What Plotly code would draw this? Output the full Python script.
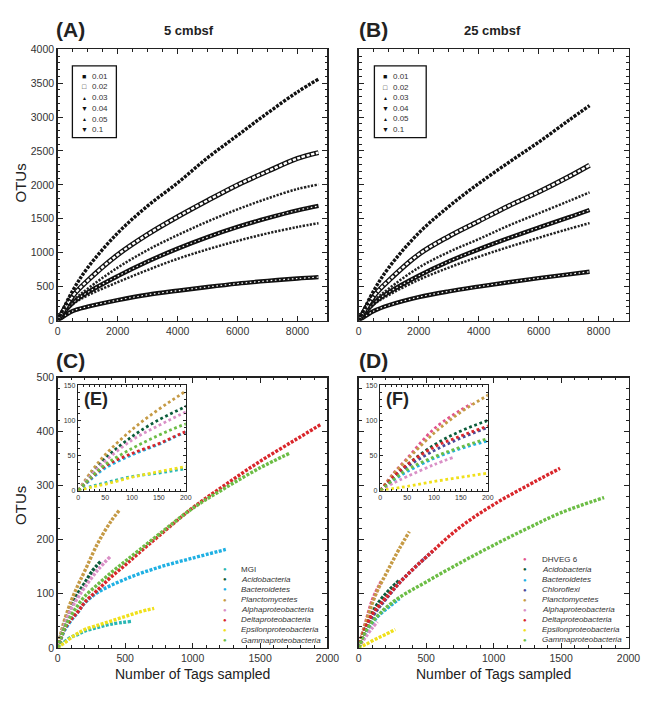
import plotly.graph_objects as go

# ---------------- DATA ----------------
# Panels A / B : OTU rarefaction at different cutoffs
cutoffs = ["0.01", "0.02", "0.03", "0.04", "0.05", "0.1"]

A_tags = [0, 500, 1000, 2000, 3000, 4000, 5000, 6000, 7000, 8000, 8700]
A_otus = {
    "0.01": [0, 440, 780, 1290, 1690, 2030, 2400, 2730, 3060, 3370, 3560],
    "0.02": [0, 360, 590, 970, 1270, 1530, 1770, 2000, 2200, 2390, 2476],
    "0.03": [0, 285, 470, 780, 1040, 1260, 1460, 1640, 1800, 1940, 2005],
    "0.04": [0, 260, 415, 655, 870, 1060, 1230, 1380, 1510, 1625, 1690],
    "0.05": [0, 240, 370, 565, 745, 910, 1050, 1175, 1285, 1380, 1435],
    "0.1":  [0, 140, 205, 300, 380, 440, 495, 545, 585, 620, 640],
}

B_tags = [0, 500, 1000, 2000, 3000, 4000, 5000, 6000, 7000, 7700]
B_otus = {
    "0.01": [0, 440, 780, 1290, 1680, 2020, 2330, 2630, 2950, 3170],
    "0.02": [0, 360, 590, 975, 1240, 1465, 1690, 1895, 2120, 2290],
    "0.03": [0, 285, 470, 780, 1010, 1200, 1400, 1580, 1760, 1890],
    "0.04": [0, 255, 415, 660, 870, 1050, 1215, 1370, 1520, 1630],
    "0.05": [0, 235, 375, 600, 780, 940, 1085, 1220, 1350, 1436],
    "0.1":  [0, 140, 225, 345, 430, 500, 565, 625, 680, 720],
}

# Panels C / E : 5 cmbsf taxa
C_taxa = ["MGI", "Acidobacteria", "Bacteroidetes", "Planctomycetes",
          "Alphaproteobacteria", "Deltaproteobacteria",
          "Epsilonproteobacteria", "Gammaproteobacteria"]
C_x = {
    "MGI": [0, 25, 50, 100, 150, 200, 300, 400, 547],
    "Acidobacteria": [0, 25, 50, 100, 150, 200, 250, 321],
    "Bacteroidetes": [0, 25, 50, 100, 150, 200, 300, 500, 750, 1000, 1246],
    "Planctomycetes": [0, 25, 50, 100, 150, 200, 300, 400, 462],
    "Alphaproteobacteria": [0, 25, 50, 100, 150, 200, 300, 394],
    "Deltaproteobacteria": [0, 25, 50, 100, 150, 200, 300, 400, 500, 600, 750,
                            1000, 1250, 1500, 1750, 1956],
    "Epsilonproteobacteria": [0, 25, 50, 100, 150, 200, 300, 400, 500, 600, 715],
    "Gammaproteobacteria": [0, 25, 50, 100, 150, 200, 300, 400, 500, 600, 750,
                            1000, 1250, 1500, 1720],
}
C_y = {
    "MGI": [0, 6, 11, 20, 25, 31, 38, 44, 49],
    "Acidobacteria": [0, 25, 46, 77, 101, 120, 140, 161],
    "Bacteroidetes": [0, 17, 32, 51, 66, 83, 103, 127, 149, 166, 182],
    "Planctomycetes": [0, 28, 51, 87, 116, 142, 195, 236, 256],
    "Alphaproteobacteria": [0, 23, 42, 72, 93, 112, 145, 170],
    "Deltaproteobacteria": [0, 19, 35, 53, 67, 84, 108, 132, 153, 175, 207,
                            259, 303, 345, 383, 414],
    "Epsilonproteobacteria": [0, 5, 9, 19, 27, 34, 42, 50, 58, 66, 73],
    "Gammaproteobacteria": [0, 20, 37, 60, 79, 95, 118, 140, 160, 180, 210,
                            258, 297, 333, 360],
}

# Panels D / F : 25 cmbsf taxa
D_taxa = ["DHVEG 6", "Acidobacteria", "Bacteroidetes", "Chloroflexi",
          "Planctomycetes", "Alphaproteobacteria", "Deltaproteobacteria",
          "Epsilonproteobacteria", "Gammaproteobacteria"]
D_x = {
    "DHVEG 6": [0, 25, 50, 100, 150, 170],
    "Acidobacteria": [0, 25, 50, 100, 150, 200, 250, 302],
    "Bacteroidetes": [0, 25, 50, 100, 150, 200, 250, 302],
    "Chloroflexi": [0, 25, 50, 100, 150, 200, 300, 400, 500, 549],
    "Planctomycetes": [0, 25, 50, 100, 150, 200, 250, 300, 375],
    "Alphaproteobacteria": [0, 25, 50, 100, 138],
    "Deltaproteobacteria": [0, 25, 50, 100, 150, 200, 300, 400, 500, 750,
                            1000, 1250, 1492],
    "Epsilonproteobacteria": [0, 25, 50, 100, 150, 200, 271],
    "Gammaproteobacteria": [0, 25, 50, 100, 150, 200, 300, 500, 750, 1000,
                            1250, 1500, 1819],
}
D_y = {
    "DHVEG 6": [0, 25, 46, 88, 115, 124],
    "Acidobacteria": [0, 20, 37, 65, 85, 100, 113, 125],
    "Bacteroidetes": [0, 15, 27, 46, 60, 71, 81, 91],
    "Chloroflexi": [0, 19, 34, 57, 75, 90, 120, 145, 168, 179],
    "Planctomycetes": [0, 24, 44, 82, 112, 136, 160, 183, 215],
    "Alphaproteobacteria": [0, 11, 20, 37, 48],
    "Deltaproteobacteria": [0, 20, 37, 62, 78, 92, 120, 145, 168, 223, 265,
                            300, 332],
    "Epsilonproteobacteria": [0, 3, 6, 13, 19, 25, 34],
    "Gammaproteobacteria": [0, 16, 30, 48, 62, 74, 93, 122, 157, 190, 221,
                            250, 278],
}

taxon_colors = {
    "MGI": "#2ab7b4",
    "DHVEG 6": "#e2558c",
    "Acidobacteria": "#0b5d3b",
    "Bacteroidetes": "#1fb0e3",
    "Chloroflexi": "#4a4b99",
    "Planctomycetes": "#c59a45",
    "Alphaproteobacteria": "#d98fc6",
    "Deltaproteobacteria": "#d9262b",
    "Epsilonproteobacteria": "#f0e01a",
    "Gammaproteobacteria": "#6cbd45",
}
italic_names = set(taxon_colors) - {"MGI", "DHVEG 6"}

cutoff_symbols = {"0.01": ("■", 7), "0.02": ("□", 7), "0.03": ("▲", 5),
                  "0.04": ("▼", 7), "0.05": ("▲", 5), "0.1": ("▼", 7)}

# ---------------- STYLE ----------------
FONT = "Liberation Sans, Arial, sans-serif"
W, H = 663, 703
AX = "#222222"


def px(x):
    return x / W


def py(y):
    return 1 - y / H


cutoff_styles = {
    "0.01": [dict(width=3.4, dash="3px,1.3px", color="#111")],
    "0.02": [dict(width=5, color="#111"),
             dict(width=2.4, dash="3.4px,1.5px", color="white")],
    "0.03": [dict(width=2.5, dash="2.2px,1.4px", color="#222")],
    "0.04": [dict(width=4.4, color="#111"),
             dict(width=1.2, dash="1.6px,2.6px", color="white")],
    "0.05": [dict(width=2.5, dash="2.2px,1.4px", color="#222")],
    "0.1": [dict(width=4.4, color="#111"),
            dict(width=1.2, dash="1.6px,2.6px", color="white")],
}

fig = go.Figure()


def add_line(x, y, ax, line):
    ln = dict(line)
    ln["shape"] = "spline"
    fig.add_trace(go.Scatter(x=x, y=y, mode="lines", line=ln,
                             xaxis="x" + ax, yaxis="y" + ax,
                             hoverinfo="skip", showlegend=False))


# A and B
for tags, otus, ax in [(A_tags, A_otus, ""), (B_tags, B_otus, "2")]:
    for c in cutoffs[::-1]:
        for st in cutoff_styles[c]:
            add_line(tags, otus[c], ax, st)

# C/E and D/F
for taxa, xs, ys, ax_main, ax_in in [(C_taxa, C_x, C_y, "3", "5"),
                                       (D_taxa, D_x, D_y, "4", "6")]:
    for t in taxa:
        add_line(xs[t], ys[t], ax_main,
                 dict(width=3.4, dash="3px,1.5px", color=taxon_colors[t]))
    for t in taxa:
        add_line(xs[t], ys[t], ax_in,
                 dict(width=2.8, dash="2.8px,2.7px", color=taxon_colors[t]))


def axis(dom, rng, dtick, mdtick, anchor, labels=True, fsize=10.5, tlen=5):
    return dict(domain=dom, range=rng, dtick=dtick, tick0=0, ticks="inside",
                ticklen=tlen, tickwidth=1, tickcolor=AX, mirror="ticks",
                showline=True, linecolor=AX, linewidth=1.5, showgrid=False,
                zeroline=False, anchor=anchor, showticklabels=labels,
                tickfont=dict(size=fsize, color="#333", family=FONT),
                minor=dict(dtick=mdtick, ticks="inside", ticklen=tlen * 0.55,
                           tickcolor=AX, tickwidth=1, showgrid=False),
                fixedrange=True)


xA = [px(56), px(332)]
xB = [px(364), px(640)]
yTop = [py(320), py(44)]
yBot = [py(653), py(378)]
xE = [px(77), px(187)]
xF = [px(386), px(496)]
yIn = [py(493), py(386)]

fig.update_layout(
    width=W, height=H, margin=dict(l=0, r=0, t=0, b=0),
    paper_bgcolor="white", plot_bgcolor="white", showlegend=False,
    font=dict(family=FONT, color="#222"),
    xaxis=axis(xA, [0, 9000], 2000, 500, "y"),
    yaxis=axis(yTop, [0, 4000], 500, 100, "x"),
    xaxis2=axis(xB, [0, 9000], 2000, 500, "y2"),
    yaxis2=axis(yTop, [0, 4000], 500, 100, "x2", labels=False),
    xaxis3=axis(xA, [0, 2000], 500, 100, "y3"),
    yaxis3=axis(yBot, [0, 500], 100, 20, "x3"),
    xaxis4=axis(xB, [0, 2000], 500, 100, "y4"),
    yaxis4=axis(yBot, [0, 500], 100, 20, "x4", labels=False),
    xaxis5=axis(xE, [0, 200], 50, 10, "y5", fsize=7, tlen=3),
    yaxis5=axis(yIn, [0, 150], 50, 10, "x5", fsize=7, tlen=3),
    xaxis6=axis(xF, [0, 200], 50, 10, "y6", fsize=7, tlen=3),
    yaxis6=axis(yIn, [0, 150], 50, 10, "x6", fsize=7, tlen=3),
)

ann = []
shapes = []


def text(x, y, s, size, bold=False, xanchor="center", angle=0, color="#222"):
    ann.append(dict(x=px(x), y=py(y), xref="paper", yref="paper", text=s,
                    showarrow=False, xanchor=xanchor, yanchor="middle",
                    textangle=angle,
                    font=dict(size=size, family=FONT, color=color,
                              weight="bold" if bold else "normal")))


# panel labels and titles
text(52, 24, "(A)", 21, True, "left")
text(362, 24, "(B)", 21, True, "left")
text(52, 361, "(C)", 21, True, "left")
text(362, 361, "(D)", 21, True, "left")
text(81, 400, "(E)", 18, True, "left")
text(390, 400, "(F)", 18, True, "left")
text(190, 25, "5 cmbsf", 13, True)
text(501, 25, "25 cmbsf", 13, True)
text(18, 180, "OTUs", 15, angle=-90)
text(18, 508, "OTUs", 15, angle=-90)
text(194, 680, "Number of Tags sampled", 14)
text(502, 680, "Number of Tags sampled", 14)

# cutoff legends (A, B)
for (bx0, by0, bx1, by1, mx, tx, r0, step) in [
        (71, 61, 116, 134, 83, 89, 71.5, 10.9),
        (380, 61, 433, 134, 391, 397, 71.7, 10.8)]:
    shapes.append(dict(type="rect", xref="paper", yref="paper",
                       x0=px(bx0), x1=px(bx1), y0=py(by1), y1=py(by0),
                       line=dict(color="#111", width=1.3), fillcolor="white",
                       layer="above"))
    for i, c in enumerate(cutoffs):
        sym, ssz = cutoff_symbols[c]
        text(mx, r0 + i * step, sym, ssz, color="#111")
        text(tx, r0 + i * step, c, 8, xanchor="left", color="#333")

# taxa legends (C, D)
for taxa, mx, tx, r0, step in [(C_taxa, 227, 241, 573, 10.3),
                               (D_taxa, 534, 549, 563, 10.25)]:
    for i, t in enumerate(taxa):
        text(mx, r0 + i * step, "●", 6, color=taxon_colors[t])
        label = "<i>%s</i>" % t if t in italic_names else t
        text(tx, r0 + i * step, label, 8, xanchor="left", color="#333")

fig.update_layout(annotations=ann, shapes=shapes)
fig.write_html(
    "out.html",
    config={"displayModeBar": False, "staticPlot": True},
    post_script=(
        "document.documentElement.style.margin='0';"
        "document.documentElement.style.overflow='hidden';"
        "document.body.style.margin='0';"
        "document.body.style.padding='0';"
        "document.body.style.overflow='hidden';"
        "var d=document.getElementById('{plot_id}');"
        "d.style.position='fixed';d.style.left='0px';d.style.top='0px';"
    ),
)
